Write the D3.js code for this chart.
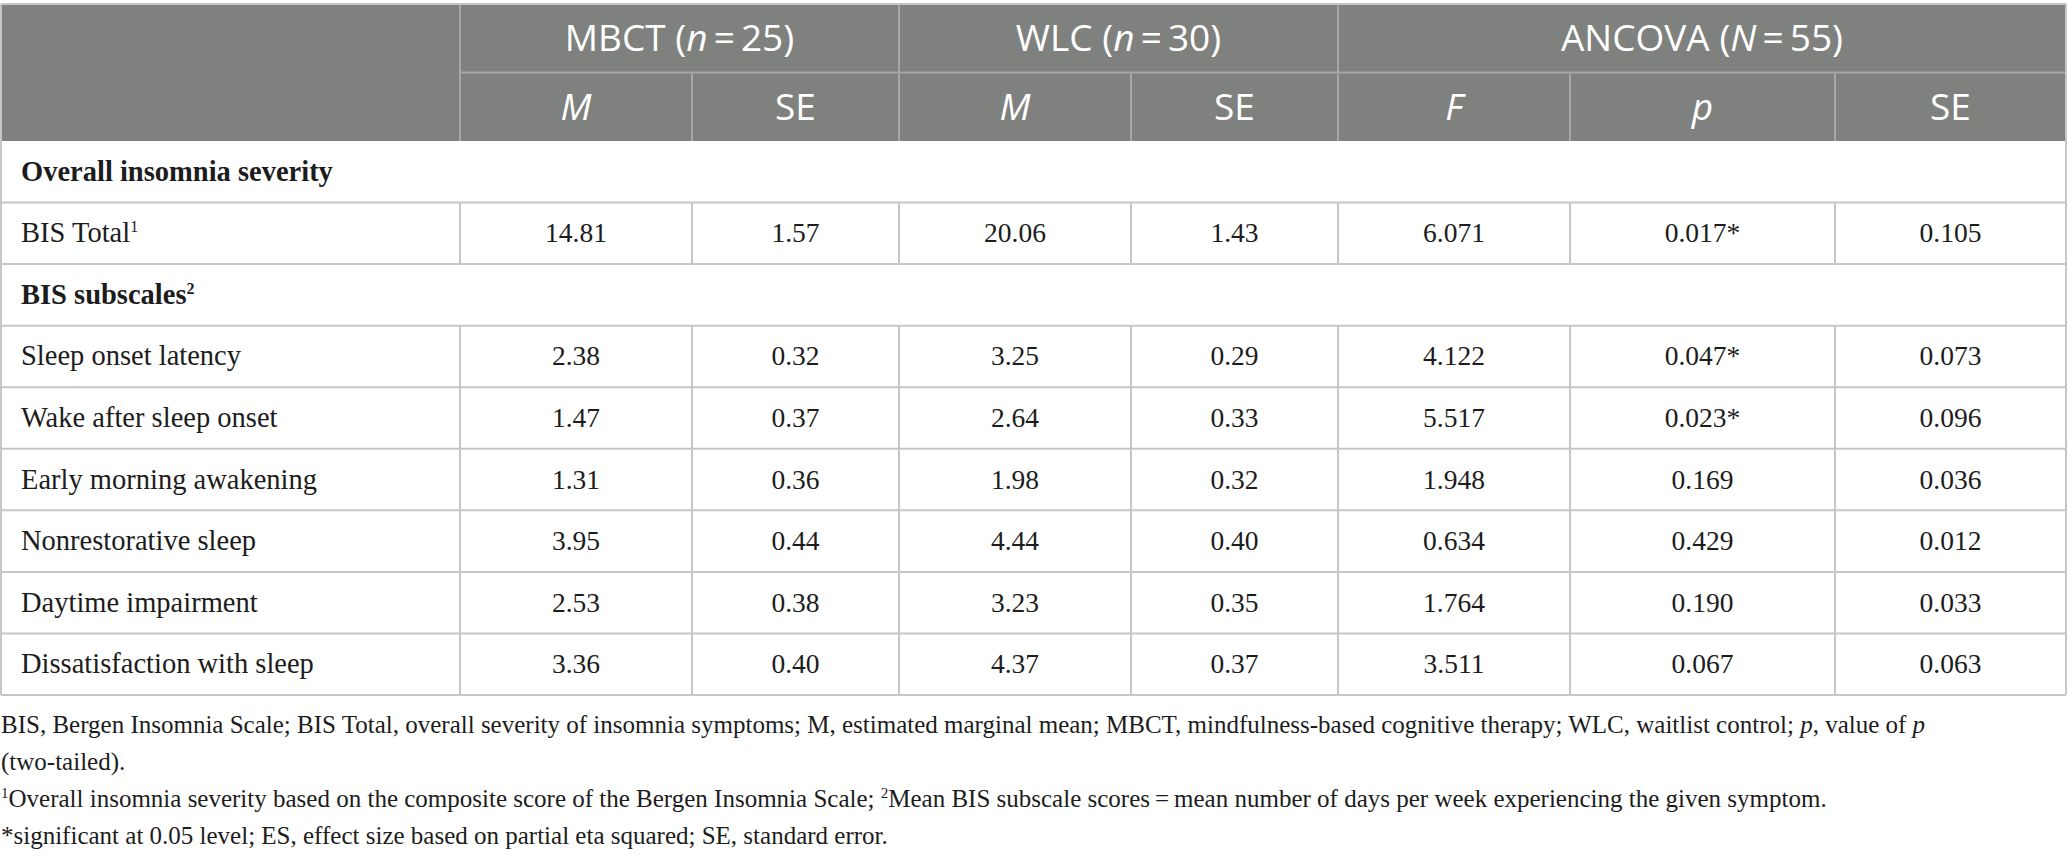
<!DOCTYPE html>
<html>
<head>
<meta charset="utf-8">
<script src="https://cdn.jsdelivr.net/npm/d3@7/dist/d3.min.js"></script>
<style>
  body { margin: 0; background: #fff; }
</style>
</head>
<body>
<div id="table"></div>
<script>
// header content
var groupNames = ["MBCT", "WLC", "ANCOVA"];
var groupSymbols = ["n", "n", "N"];
var groupCounts = [25, 30, 55];
var subHeads = ["M", "SE", "M", "SE", "F", "p", "SE"];
var subItalic = [true, false, true, false, true, true, false];

// row content
var sections = ["Overall insomnia severity", "BIS subscales"];
var sectionNotes = ["", "2"];
var measures = ["BIS Total", "Sleep onset latency", "Wake after sleep onset",
    "Early morning awakening", "Nonrestorative sleep", "Daytime impairment",
    "Dissatisfaction with sleep"];
var measureSection = [0, 1, 1, 1, 1, 1, 1];
var measureNotes = ["1", "", "", "", "", "", ""];

var mbctM = [14.81, 2.38, 1.47, 1.31, 3.95, 2.53, 3.36];
var mbctSE = [1.57, 0.32, 0.37, 0.36, 0.44, 0.38, 0.40];
var wlcM = [20.06, 3.25, 2.64, 1.98, 4.44, 3.23, 4.37];
var wlcSE = [1.43, 0.29, 0.33, 0.32, 0.40, 0.35, 0.37];
var ancovaF = [6.071, 4.122, 5.517, 1.948, 0.634, 1.764, 3.511];
var ancovaP = [0.017, 0.047, 0.023, 0.169, 0.429, 0.190, 0.067];
var ancovaSE = [0.105, 0.073, 0.096, 0.036, 0.012, 0.033, 0.063];

var width = 2067,
    height = 862;

var colEdges = [1, 460, 692, 899, 1131, 1338, 1570, 1835, 2066];
var groupEdges = [[1, 3], [3, 5], [5, 8]];
var headTop = 4, headMid = 72.5, headBottom = 141, tableBottom = 695;

var headColor = "#7f817e",
    headLine = "#a6a8a5",
    gridLine = "#c6c6c6",
    textColor = "#1c1c1c",
    sans = "'Open Sans', sans-serif",
    serif = "'Liberation Serif', 'Times New Roman', serif";

var f2 = d3.format(".2f"),
    f3 = d3.format(".3f");

// build the row list: section title rows and measure rows
var rows = [];
var lastSection = -1;
measures.forEach(function(m, i) {
    if (measureSection[i] !== lastSection) {
        lastSection = measureSection[i];
        rows.push({type: "section", label: sections[lastSection], note: sectionNotes[lastSection]});
    }
    rows.push({
        type: "measure",
        label: m,
        note: measureNotes[i],
        cells: [f2(mbctM[i]), f2(mbctSE[i]), f2(wlcM[i]), f2(wlcSE[i]),
            f3(ancovaF[i]), f3(ancovaP[i]) + (ancovaP[i] < 0.05 ? "*" : ""), f3(ancovaSE[i])]
    });
});

var y = d3.scaleBand()
    .domain(d3.range(rows.length))
    .range([headBottom, tableBottom]);

var svg = d3.select("#table")
    .append("svg")
    .attr("width", width)
    .attr("height", height);

// header background
svg.append("rect")
    .attr("x", colEdges[0])
    .attr("y", headTop)
    .attr("width", colEdges[8] - colEdges[0])
    .attr("height", headBottom - headTop)
    .style("fill", headColor);

// header dividers
var hd = svg.append("g").style("stroke", headLine).style("stroke-width", 2);
hd.append("line")
    .attr("x1", colEdges[1]).attr("x2", colEdges[8])
    .attr("y1", headMid).attr("y2", headMid);
[1, 3, 5].forEach(function(c) {
    hd.append("line")
        .attr("x1", colEdges[c]).attr("x2", colEdges[c])
        .attr("y1", headTop).attr("y2", headBottom);
});
[2, 4, 6, 7].forEach(function(c) {
    hd.append("line")
        .attr("x1", colEdges[c]).attr("x2", colEdges[c])
        .attr("y1", headMid).attr("y2", headBottom);
});

// group titles
groupNames.forEach(function(g, i) {
    var cx = (colEdges[groupEdges[i][0]] + colEdges[groupEdges[i][1]]) / 2;
    var t = svg.append("text")
        .attr("x", cx)
        .attr("y", (headTop + headMid) / 2 + 13)
        .attr("text-anchor", "middle")
        .style("font-family", sans)
        .style("font-size", "37px")
        .style("font-weight", 500)
        .style("fill", "#fff");
    t.append("tspan").text(g + " (");
    t.append("tspan").style("font-style", "italic").text(groupSymbols[i]);
    t.append("tspan").text("\u2009=\u2009" + groupCounts[i] + ")");
});

// sub headings
subHeads.forEach(function(s, i) {
    svg.append("text")
        .attr("x", (colEdges[i + 1] + colEdges[i + 2]) / 2)
        .attr("y", (headMid + headBottom) / 2 + 13)
        .attr("text-anchor", "middle")
        .style("font-family", sans)
        .style("font-size", "37px")
        .style("font-weight", 500)
        .style("font-style", subItalic[i] ? "italic" : "normal")
        .style("fill", "#fff")
        .text(s);
});

// body grid
var grid = svg.append("g").style("stroke", gridLine).style("stroke-width", 2);
rows.forEach(function(r, i) {
    grid.append("line")
        .attr("x1", colEdges[0]).attr("x2", colEdges[8])
        .attr("y1", y(i) + y.bandwidth()).attr("y2", y(i) + y.bandwidth());
    if (r.type === "measure") {
        colEdges.slice(1, 8).forEach(function(cx) {
            grid.append("line")
                .attr("x1", cx).attr("x2", cx)
                .attr("y1", y(i)).attr("y2", y(i) + y.bandwidth());
        });
    }
});
// outer border
grid.append("line")
    .attr("x1", colEdges[0]).attr("x2", colEdges[8])
    .attr("y1", headTop).attr("y2", headTop);
[colEdges[0], colEdges[8]].forEach(function(cx) {
    grid.append("line")
        .attr("x1", cx).attr("x2", cx)
        .attr("y1", headTop).attr("y2", tableBottom);
});

// body text
rows.forEach(function(r, i) {
    var cy = y(i) + y.bandwidth() / 2 + 9;
    var label = svg.append("text")
        .attr("x", 21)
        .attr("y", cy)
        .style("font-family", serif)
        .style("font-size", "28.5px")
        .style("font-weight", r.type === "section" ? "bold" : "normal")
        .style("fill", textColor);
    label.append("tspan").text(r.label);
    if (r.note) {
        label.append("tspan")
            .attr("dy", -10)
            .style("font-size", "16px")
            .text(r.note);
    }
    if (r.type === "measure") {
        svg.append("g")
            .selectAll("text")
            .data(r.cells)
            .enter()
            .append("text")
            .attr("x", function(d, j) { return (colEdges[j + 1] + colEdges[j + 2]) / 2; })
            .attr("y", cy)
            .attr("text-anchor", "middle")
            .style("font-family", serif)
            .style("font-size", "27.5px")
            .style("fill", textColor)
            .text(function(d) { return d; });
    }
});

// footnotes
var notes = [
    [["BIS, Bergen Insomnia Scale; BIS Total, overall severity of insomnia symptoms; M, estimated marginal mean; MBCT, mindfulness-based cognitive therapy; WLC, waitlist control; ", ""],
        ["p", "i"], [", value of ", ""], ["p", "i"]],
    [["(two-tailed).", ""]],
    [["1", "s"], ["Overall insomnia severity based on the composite score of the Bergen Insomnia Scale; ", ""],
        ["2", "s"], ["Mean BIS subscale scores\u2009=\u2009mean number of days per week experiencing the given symptom.", ""]],
    [["*significant at 0.05 level; ES, effect size based on partial eta squared; SE, standard error.", ""]]
];
var noteY = [733, 770, 807, 844];

notes.forEach(function(parts, i) {
    var t = svg.append("text")
        .attr("x", 1)
        .attr("y", noteY[i])
        .style("font-family", serif)
        .style("font-size", "25px")
        .style("fill", textColor);
    var raised = false;
    parts.forEach(function(p) {
        var ts = t.append("tspan").text(p[0]);
        if (p[1] === "i") ts.style("font-style", "italic");
        if (p[1] === "s") {
            ts.attr("dy", -9).style("font-size", "15px");
            raised = true;
        } else if (raised) {
            ts.attr("dy", 9);
            raised = false;
        }
    });
});
</script>
</body>
</html>
